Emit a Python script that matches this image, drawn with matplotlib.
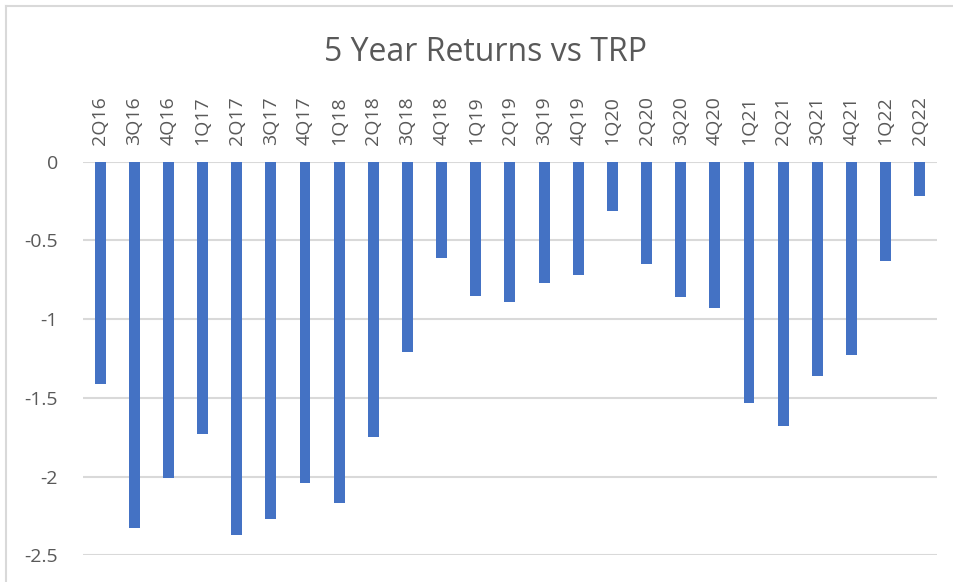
import matplotlib
matplotlib.use("Agg")
import matplotlib.pyplot as plt
from matplotlib.lines import Line2D

plt.rcParams['font.family'] = ['Open Sans', 'DejaVu Sans']
plt.rcParams['axes.unicode_minus'] = False

# quarters and 5 year returns vs TRP
quarters = ['2Q16', '3Q16', '4Q16', '1Q17', '2Q17', '3Q17', '4Q17', '1Q18', '2Q18',
            '3Q18', '4Q18', '1Q19', '2Q19', '3Q19', '4Q19', '1Q20', '2Q20', '3Q20',
            '4Q20', '1Q21', '2Q21', '3Q21', '4Q21', '1Q22', '2Q22']
returns = [-1.41, -2.33, -2.01, -1.73, -2.37, -2.27, -2.04, -2.17, -1.75,
           -1.21, -0.61, -0.85, -0.89, -0.77, -0.72, -0.31, -0.65, -0.86,
           -0.93, -1.53, -1.68, -1.36, -1.23, -0.63, -0.22]
yticks = [0, -0.5, -1, -1.5, -2, -2.5]

text_col = '#595959'
grid_col = '#d9d9d9'

fig = plt.figure(figsize=(9.54, 5.82), dpi=100)
ax = fig.add_axes([0.087, 0.046, 0.895, 0.676])

x = list(range(len(quarters)))
ax.bar(x, returns, width=0.32, color='#4472C4', zorder=3)

ax.set_xlim(-0.5, len(quarters) - 0.5)
ax.set_ylim(-2.5, 0)
ax.set_yticks(yticks)
ax.set_yticklabels(['%g' % v for v in yticks])
ax.yaxis.grid(True, color=grid_col, linewidth=1.5, zorder=0)

ax.xaxis.tick_top()
ax.set_xticks(x)
ax.set_xticklabels(quarters, rotation=90)
ax.tick_params(axis='x', length=0, pad=12, labelsize=14, labelcolor=text_col)
ax.tick_params(axis='y', length=0, pad=18, labelsize=14, labelcolor=text_col)
for s in ax.spines.values():
    s.set_visible(False)

fig.text(0.509, 0.91, '5 Year Returns vs TRP', ha='center', va='center',
         fontsize=23, color=text_col)

# chart frame (only left and top edges visible)
fig.add_artist(Line2D([0.006, 0.006], [0, 0.99], transform=fig.transFigure,
                      color=grid_col, linewidth=1.5))
fig.add_artist(Line2D([0.006, 1.0], [0.99, 0.99], transform=fig.transFigure,
                      color=grid_col, linewidth=1.5))

fig.savefig('out.png', dpi=100)
